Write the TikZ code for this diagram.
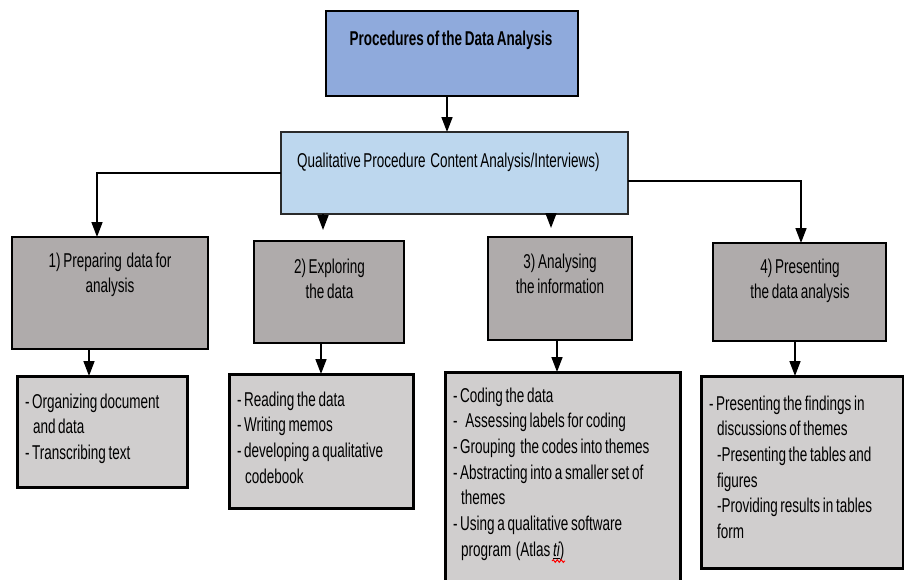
\documentclass[tikz,border=0pt]{standalone}
\usepackage{fontspec}
\setmainfont{Liberation Sans}[FakeStretch=0.675, WordSpace=0.72]
\usetikzlibrary{arrows.meta,decorations.pathmorphing}
\definecolor{topblue}{HTML}{8FAADC}
\definecolor{qualblue}{HTML}{BDD7EE}
\definecolor{stepgray}{HTML}{AFABAB}
\definecolor{detgray}{HTML}{D0CECE}
\definecolor{edgegray}{HTML}{2A2A2A}
\tikzset{
  every node/.style={font=\fontsize{20}{25.7}\selectfont, inner sep=0pt, outer sep=0pt, text=black},
  topbox/.style={draw=black, line width=2pt, fill=topblue},
  qualbox/.style={draw=edgegray, line width=2pt, fill=qualblue},
  stepbox/.style={draw=black, line width=2.2pt, fill=stepgray},
  detbox/.style={draw=black, line width=3pt, fill=detgray},
  ctxt/.style={text width=220pt, align=flush center, anchor=base},
  ltxt/.style={text width=260pt, align=flush left, anchor=base west},
  arr/.style={line width=1.6pt, -{Triangle[width=11pt,length=15pt]}},
}
\begin{document}
\begin{tikzpicture}[x=1pt,y=-1pt]
\useasboundingbox (0,0) rectangle (904,579);
\clip (0,0) rectangle (904,579);
\fill[white] (0,0) rectangle (904,579);

% boxes
\node[topbox, minimum width=252pt, minimum height=85pt] (top) at (452,53.5) {};
\node[qualbox, minimum width=347pt, minimum height=82pt] (qual) at (454.5,173) {};

\node[stepbox, minimum width=196pt, minimum height=112pt] (s1) at (110,293) {};
\node[stepbox, minimum width=150pt, minimum height=102pt] (s2) at (329,292) {};
\node[stepbox, minimum width=144pt, minimum height=103pt] (s3) at (560,288.5) {};
\node[stepbox, minimum width=173pt, minimum height=98pt] (s4) at (799.5,292) {};

\node[detbox, minimum width=170pt, minimum height=111pt] (d1) at (102,431.5) {};
\node[detbox, minimum width=184pt, minimum height=134pt] (d2) at (321,441) {};
\node[detbox, minimum width=235pt, minimum height=220pt] (d3) at (562.5,482) {};
\node[detbox, minimum width=202pt, minimum height=192pt] (d4) at (802,472) {};

% texts
\node[anchor=base] (ttop) at (451,45) {\bfseries Procedures of the Data Analysis};
\node[anchor=base west] (tqual) at (297,167) {Qualitative Procedure\hspace{2pt} Content Analysis/Interviews)};

\node[ctxt] (ts1) at (110,267) {1) Preparing\hspace{2pt} data for\\analysis};
\node[ctxt] (ts2) at (329.5,273) {2) Exploring\\the data};
\node[ctxt] (ts3) at (560,268) {3) Analysing\\the information};
\node[ctxt] (ts4) at (800,273) {4) Presenting\\the data analysis};

\node[ltxt] (td1) at (25,408) {- Organizing document\\\hspace*{8pt}and data\\- Transcribing text};
\node[ltxt] (td2) at (237,406) {- Reading the data\\- Writing memos\\- developing a qualitative\\\hspace*{8pt}codebook};
\node[ltxt] (td3) at (453,402) {- Coding the data\\-\hspace*{8pt}Assessing labels for coding\\- Grouping\hspace{2pt} the codes into themes\\- Abstracting into a smaller set of\\\hspace*{8pt}themes\\- Using a qualitative software\\\hspace*{8pt}program\hspace{2pt} (Atlas \underline{\itshape ti})};
\node[ltxt] (td4) at (709,410) {- Presenting the findings in\\\hspace*{8pt}discussions of themes\\\hspace*{8pt}-Presenting the tables and\\\hspace*{8pt}figures\\\hspace*{8pt}-Providing results in tables\\\hspace*{8pt}form};

% spell-check mark
\coordinate (sq1) at (552,561);
\coordinate (sq2) at (565,561);
\draw[red, line width=1pt, decorate, decoration={snake, amplitude=1.3pt, segment length=4pt}] (sq1) -- (sq2);

% connectors
\draw[arr] ([xshift=-5pt]top.south) -- ([xshift=-5pt]top.south |- qual.north);
\draw[arr] (qual.west) -| ([xshift=-13pt]s1.north);
\draw[arr] ([yshift=-8pt]qual.east) -| ([xshift=1.5pt]s4.north);
\draw[arr] ([xshift=-6pt]s2.north |- qual.south) -- ([xshift=-6pt,yshift=11pt]s2.north);
\draw[arr] ([xshift=-9pt]s3.north |- qual.south) -- ([xshift=-9pt,yshift=9pt]s3.north);

\draw[arr] ([xshift=-21pt]s1.south) -- ([xshift=-21pt]s1.south |- d1.north);
\draw[arr] ([xshift=-8pt]s2.south) -- ([xshift=-8pt]s2.south |- d2.north);
\draw[arr] ([xshift=-3pt]s3.south) -- ([xshift=-3pt]s3.south |- d3.north);
\draw[arr] ([xshift=-4.5pt]s4.south) -- ([xshift=-4.5pt]s4.south |- d4.north);
\end{tikzpicture}
\end{document}
